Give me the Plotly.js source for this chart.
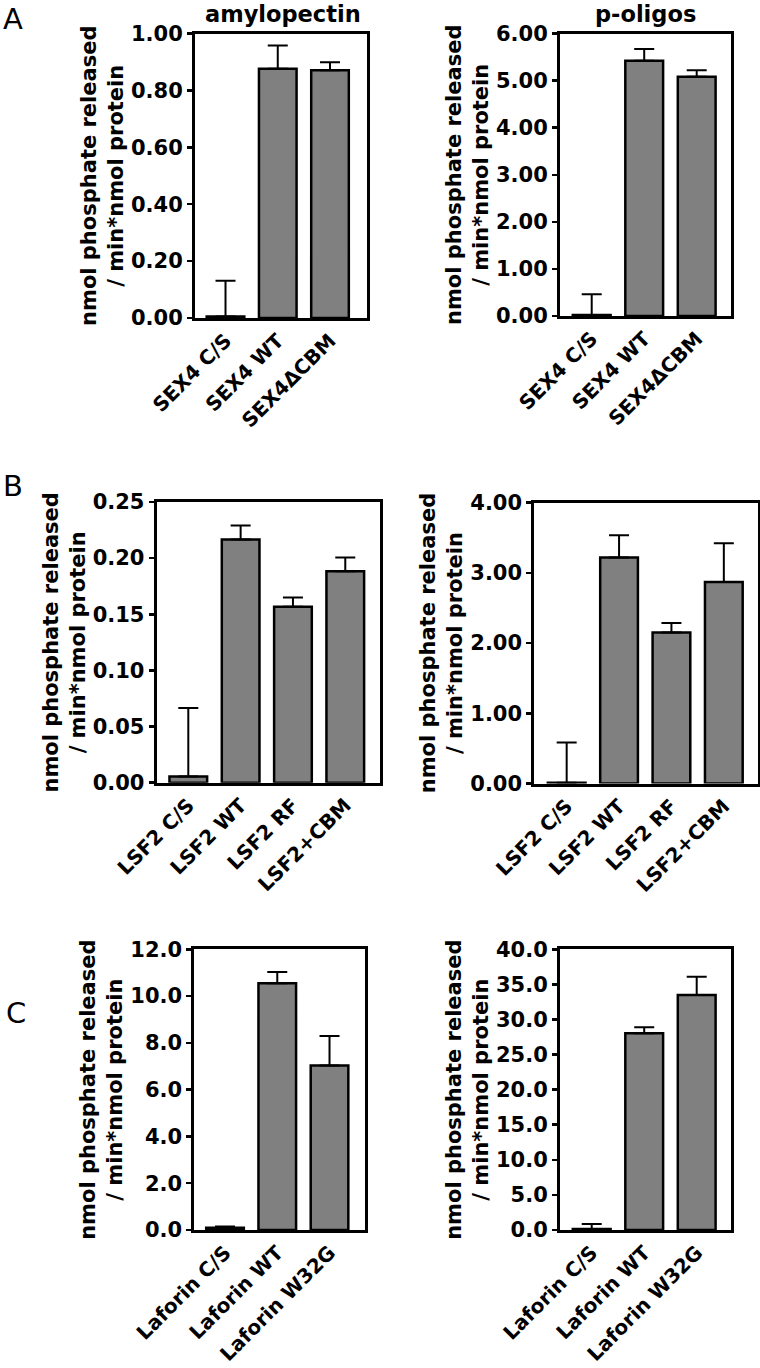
<!DOCTYPE html>
<html>
<head>
<meta charset="utf-8">
<script src="https://cdn.plot.ly/plotly-3.0.1.min.js"></script>
<style>html,body{margin:0;padding:0;background:#fff;}#chart{width:760px;height:1368px;}</style>
</head>
<body>
<div id="chart"></div>
<script>
// ---- Data ----
const sex4Cats = ["SEX4 C/S", "SEX4 WT", "SEX4\u0394CBM"];
const sex4AmyloMean = [0.005, 0.876, 0.871];
const sex4AmyloErr = [0.126, 0.082, 0.028];
const sex4OligoMean = [0.02, 5.42, 5.08];
const sex4OligoErr = [0.44, 0.25, 0.14];

const lsf2Cats = ["LSF2 C/S", "LSF2 WT", "LSF2 RF", "LSF2+CBM"];
const lsf2AmyloMean = [0.0055, 0.2165, 0.1566, 0.1883];
const lsf2AmyloErr = [0.061, 0.0125, 0.0084, 0.0122];
const lsf2OligoMean = [0.01, 3.217, 2.149, 2.87];
const lsf2OligoErr = [0.574, 0.317, 0.137, 0.55];

const laforinCats = ["Laforin C/S", "Laforin WT", "Laforin W32G"];
const laforinAmyloMean = [0.1, 10.55, 7.03];
const laforinAmyloErr = [0.05, 0.48, 1.26];
const laforinOligoMean = [0.15, 28.03, 33.49];
const laforinOligoErr = [0.7, 0.85, 2.61];

const yTitle = "nmol phosphate released<br>/ min*nmol protein";
const colTitles = ["amylopectin", "p-oligos"];
const panelLetters = ["A", "B", "C"];

// ---- Layout helpers ----
const W = 760, H = 1368;
const FONT = "DejaVu Sans";
const dxd = (a, b) => [a / W, b / W];
const dyd = (top, bottom) => [1 - bottom / H, 1 - top / H];

const panels = [
  {cats: sex4Cats, y: sex4AmyloMean, e: sex4AmyloErr, box: [195, 33.5, 367, 318], xr: [-0.584, 2.708], yr: [0, 1], dt: 0.2, fmt: ".2f"},
  {cats: sex4Cats, y: sex4OligoMean, e: sex4OligoErr, box: [560, 33.5, 731.3, 316], xr: [-0.604, 2.659], yr: [0, 6], dt: 1, fmt: ".2f"},
  {cats: lsf2Cats, y: lsf2AmyloMean, e: lsf2AmyloErr, box: [156.7, 502, 379.5, 782.7], xr: [-0.604, 3.654], yr: [0, 0.25], dt: 0.05, fmt: ".2f"},
  {cats: lsf2Cats, y: lsf2OligoMean, e: lsf2OligoErr, box: [534.3, 502.5, 758.3, 783.5], xr: [-0.618, 3.658], yr: [0, 4], dt: 1, fmt: ".2f"},
  {cats: laforinCats, y: laforinAmyloMean, e: laforinAmyloErr, box: [194.3, 949.3, 365, 1230], xr: [-0.588, 2.679], yr: [0, 12], dt: 2, fmt: ".1f"},
  {cats: laforinCats, y: laforinOligoMean, e: laforinOligoErr, box: [560, 949.3, 731.3, 1230], xr: [-0.604, 2.659], yr: [0, 40], dt: 5, fmt: ".1f"}
];

const traces = [];
const layout = {
  width: W, height: H,
  margin: {l: 0, r: 0, t: 0, b: 0},
  paper_bgcolor: "#ffffff", plot_bgcolor: "#ffffff",
  showlegend: false,
  bargap: 0.28,
  font: {family: FONT, color: "#000"},
  annotations: []
};

panels.forEach((p, i) => {
  const n = i + 1;
  const xa = n === 1 ? "x" : "x" + n;
  const ya = n === 1 ? "y" : "y" + n;
  traces.push({
    type: "bar",
    x: p.cats, y: p.y,
    xaxis: xa, yaxis: ya,
    marker: {color: "#808080", line: {color: "#000", width: 2.5}},
    error_y: {type: "data", symmetric: false, array: p.e, arrayminus: p.e.map(() => 0),
              color: "#000", thickness: 2, width: 10},
    hoverinfo: "x+y"
  });
  const [x0, y0, x1, y1] = p.box;
  layout["xaxis" + (n === 1 ? "" : n)] = {
    domain: dxd(x0, x1), anchor: ya, range: p.xr, type: "category",
    showline: true, mirror: true, linecolor: "#000", linewidth: 3,
    ticks: "", showgrid: false, zeroline: false, tickangle: -45,
    tickfont: {family: FONT, size: 20, weight: "bold", color: "#000"},
    fixedrange: true
  };
  layout["yaxis" + (n === 1 ? "" : n)] = {
    domain: dyd(y0, y1), anchor: xa, range: p.yr, dtick: p.dt, tick0: 0, tickformat: p.fmt,
    showline: true, mirror: true, linecolor: "#000", linewidth: 3,
    ticks: "outside", ticklen: 5, tickwidth: 2.5, tickcolor: "#000",
    showgrid: false, zeroline: false,
    tickfont: {family: FONT, size: 21, weight: "bold", color: "#000"},
    title: {text: yTitle, standoff: 2, font: {family: FONT, size: 21, weight: "bold", color: "#000"}},
    fixedrange: true
  };
});

// column titles
layout.annotations.push(
  {text: colTitles[0], x: 283 / W, y: 1 - 14 / H, xref: "paper", yref: "paper", xanchor: "center", yanchor: "middle", showarrow: false,
   font: {family: FONT, size: 22.5, weight: "bold", color: "#000"}},
  {text: colTitles[1], x: 645 / W, y: 1 - 14 / H, xref: "paper", yref: "paper", xanchor: "center", yanchor: "middle", showarrow: false,
   font: {family: FONT, size: 22.5, weight: "bold", color: "#000"}}
);
// panel letters (x center, y of box top)
const letterPos = [[12.5, 0], [13, 467], [16, 994]];
panelLetters.forEach((L, i) => {
  layout.annotations.push({text: L, x: letterPos[i][0] / W, y: 1 - letterPos[i][1] / H, xref: "paper", yref: "paper",
    xanchor: "center", yanchor: "top", showarrow: false, font: {family: FONT, size: 29, color: "#000"}});
});

Plotly.newPlot("chart", traces, layout, {displayModeBar: false, staticPlot: true});
</script>
</body>
</html>
